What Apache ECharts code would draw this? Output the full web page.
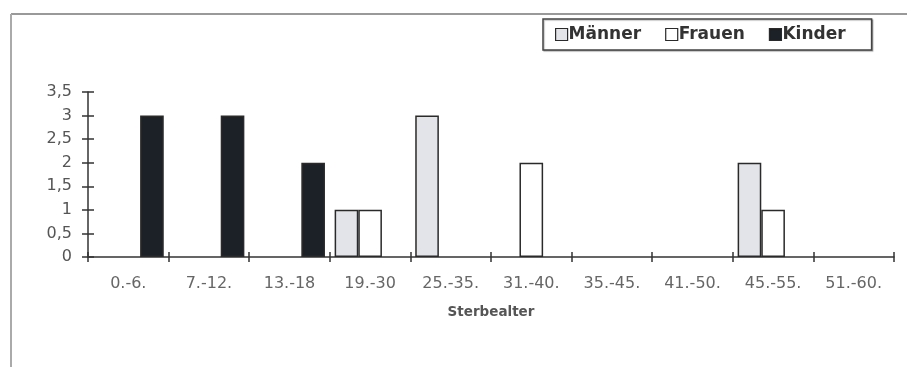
<!DOCTYPE html>
<html>
<head>
<meta charset="utf-8">
<script src="https://cdn.jsdelivr.net/npm/echarts@6/dist/echarts.min.js"></script>
<style>
  html, body { margin: 0; padding: 0; background: #fff; }
  #chart { width: 907px; height: 367px; }
</style>
</head>
<body>
<div id="chart"></div>
<script>
// Age groups at death
var categories = ['0.-6.', '7.-12.', '13.-18', '19.-30', '25.-35.', '31.-40.', '35.-45.', '41.-50.', '45.-55.', '51.-60.'];
// Number of burials per group
var maenner = [0, 0, 0, 1, 3, 0, 0, 0, 2, 0];
var frauen  = [0, 0, 0, 1, 0, 2, 0, 0, 1, 0];
var kinder  = [3, 3, 2, 0, 0, 0, 0, 0, 0, 0];
var yMin = 0, yMax = 3.5, yStep = 0.5;

var axisColor = '#333';
var wideFont = 'DejaVu Sans, Verdana, sans-serif';

var chart = echarts.init(document.getElementById('chart'), null, { renderer: 'canvas' });

// Empty groups get no outline, so nothing is drawn on the axis for them
function bars(values) {
  return values.map(function (v) {
    return { value: v, itemStyle: { borderWidth: v ? 1.5 : 0 } };
  });
}

function barSeries(name, values, fill) {
  return {
    name: name, type: 'bar', data: bars(values),
    barGap: '0%', barCategoryGap: '12%',
    itemStyle: { color: fill, borderColor: '#2a2a2a', borderWidth: 1.5 }
  };
}

chart.setOption({
  animation: false,
  backgroundColor: '#fff',
  grid: { left: 88, right: 13, top: 92, bottom: 110, containLabel: false },
  legend: {
    left: 543, top: 19,
    orient: 'horizontal',
    padding: [7, 26, 7, 12],
    itemGap: 24,
    itemWidth: 12, itemHeight: 12,
    icon: 'rect',
    borderColor: '#444', borderWidth: 1.5,
    backgroundColor: '#fff',
    shadowColor: 'rgba(0,0,0,0.25)', shadowOffsetX: 1, shadowOffsetY: 1, shadowBlur: 1,
    itemStyle: { borderColor: '#2a2a2a', borderWidth: 1.2 },
    textStyle: { fontFamily: wideFont, fontWeight: 'bold', fontSize: 17, color: '#333', padding: [0, 0, 0, -4] },
    data: ['Männer', 'Frauen', 'Kinder']
  },
  xAxis: [{
    type: 'category',
    data: categories,
    position: 'bottom',
    axisLine: { lineStyle: { color: axisColor, width: 1.5 } },
    axisTick: { show: true, length: 5, lineStyle: { color: axisColor, width: 1.5 } },
    axisLabel: { fontFamily: wideFont, fontSize: 16, color: '#666', margin: 19 },
    name: 'Sterbealter',
    nameLocation: 'middle',
    nameGap: 48,
    nameTextStyle: { fontFamily: wideFont, fontWeight: 'bold', fontSize: 13.5, color: '#555' }
  }, {
    // inner half of the crossing ticks
    type: 'category',
    data: categories,
    position: 'bottom',
    axisLine: { show: false },
    axisTick: { show: true, inside: true, length: 5, lineStyle: { color: axisColor, width: 1.5 } },
    axisLabel: { show: false }
  }],
  yAxis: [{
    type: 'value',
    min: yMin, max: yMax, interval: yStep,
    splitLine: { show: false },
    axisLine: { show: true, lineStyle: { color: axisColor, width: 1.5 } },
    axisTick: { show: true, length: 6, lineStyle: { color: axisColor, width: 1.5 } },
    axisLabel: {
      fontFamily: wideFont, fontSize: 16, color: '#555', margin: 16,
      formatter: function (v) { return String(v).replace('.', ','); }
    }
  }, {
    type: 'value',
    min: yMin, max: yMax, interval: yStep,
    position: 'left',
    splitLine: { show: false },
    axisLine: { show: false },
    axisTick: { show: true, inside: true, length: 6, lineStyle: { color: axisColor, width: 1.5 } },
    axisLabel: { show: false }
  }],
  series: [
    barSeries('Männer', maenner, '#e3e4e9'),
    barSeries('Frauen', frauen, '#ffffff'),
    barSeries('Kinder', kinder, '#1c2128')
  ],
  graphic: [
    // outer frame of the figure
    { type: 'line', shape: { x1: 11, y1: 14, x2: 907, y2: 14 }, style: { stroke: '#999', lineWidth: 2 } },
    { type: 'line', shape: { x1: 11, y1: 14, x2: 11, y2: 367 }, style: { stroke: '#aaa', lineWidth: 2 } }
  ]
});
</script>
</body>
</html>
